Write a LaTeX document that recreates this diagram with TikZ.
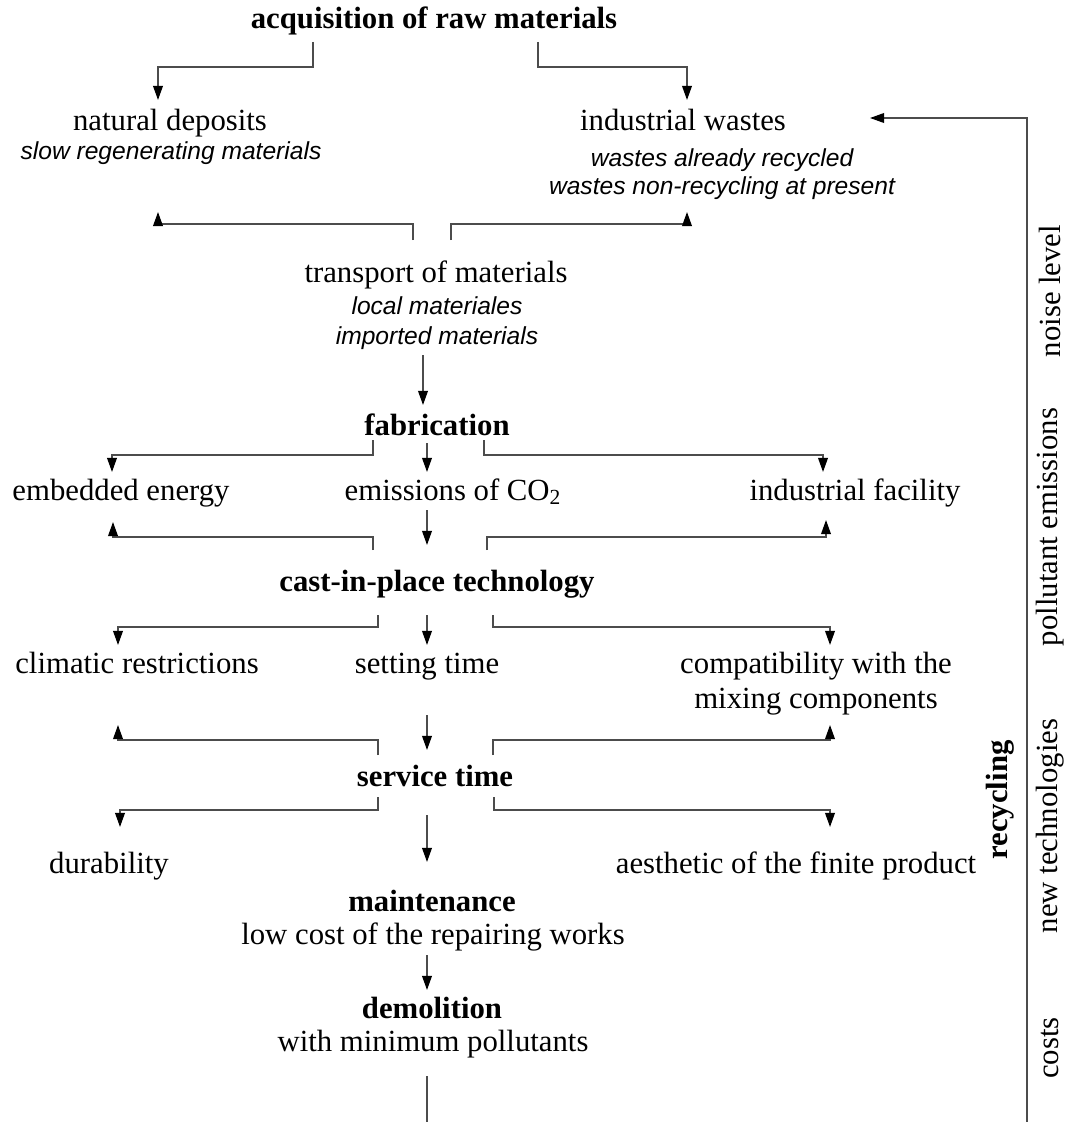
\documentclass[tikz,border=0pt]{standalone}
\usepackage{fontspec}
\setmainfont{Liberation Serif}
\setsansfont{Liberation Sans}
\usetikzlibrary{arrows.meta,calc}

\begin{document}
\begin{tikzpicture}[x=0.02cm, y=-0.02cm,
  txt/.style={anchor=base, inner sep=0pt, font=\fontsize{17.5}{20}\selectfont},
  hd/.style={txt, font=\fontsize{17.5}{20}\selectfont\bfseries},
  sub/.style={anchor=base, inner sep=0pt, font=\fontsize{14}{16}\selectfont\sffamily\itshape},
  side/.style={rotate=90, inner sep=0pt, font=\fontsize{17.5}{20}\selectfont},
  ln/.style={draw=black!70, line width=0.85pt},
  arr/.style={ln, -{Triangle[length=8pt,width=5.5pt,black]}}]
\useasboundingbox (0,0) rectangle (1072,1122);

\node[hd] (acq) at (434,29) {acquisition of raw materials};
\node[txt] (nat) at (170,131) {natural deposits};
\node[sub] (natsub) at (171,159) {slow regenerating materials};
\node[txt] (wst) at (683,131) {industrial wastes};
\node[sub] (wst1) at (722,166) {wastes already recycled};
\node[sub] (wst2) at (722,194) {wastes non-recycling at present};
\node[txt] (trans) at (436,282) {transport of materials};
\node[sub] (trans1) at (437,314) {local materiales};
\node[sub] (trans2) at (437,344) {imported materials};
\node[hd] (fab) at (437,435) {fabrication};
\node[txt] (emb) at (121,500) {embedded energy};
\node[txt] (co2) at (453,500) {emissions of CO\textsubscript{2}};
\node[txt] (fac) at (855,500) {industrial facility};
\node[hd] (cast) at (437,591) {cast-in-place technology};
\node[txt] (clim) at (137,673) {climatic restrictions};
\node[txt] (set) at (427,673) {setting time};
\node[txt] (comp) at (816,673) {compatibility with the};
\node[txt] (mix) at (816,708) {mixing components};
\node[hd] (serv) at (435,786) {service time};
\node[txt] (dur) at (109,873) {durability};
\node[txt] (aes) at (796,873) {aesthetic of the finite product};
\node[hd] (mnt) at (432,911) {maintenance};
\node[txt] (mnt1) at (433,944) {low cost of the repairing works};
\node[hd] (dem) at (432,1018) {demolition};
\node[txt] (dem1) at (433,1051) {with minimum pollutants};

\node[side] (noise) at (1050,291) {noise level};
\node[side] (poll) at (1050,527) {pollutant emissions};
\node[side] (newt) at (1050,826) {new technologies};
\node[side] (cost) at (1050,1048) {costs};
\node[side, font=\fontsize{17.5}{20}\selectfont\bfseries] (recyc) at (1000,800) {recycling};

\coordinate (bot) at (427,1122);
\coordinate (loopb) at (1027,1122);

\draw[arr] ($(acq.base)+(-121,13)$) -- ++(0,25) -| ($(nat.base)+(-12,-31)$);
\draw[arr] ($(acq.base)+(104,13)$) -- ++(0,25) -| ($(wst.base)+(4,-31)$);
\draw[arr] ($(trans.base)+(-23,-42)$) -- ++(0,-16) -| ($(natsub.base)+(-13,53)$);
\draw[arr] ($(trans.base)+(15,-42)$) -- ++(0,-16) -| ($(wst2.base)+(-35,18)$);
\draw[arr] ($(trans2.base)+(-14,11)$) -- ($(fab.base)+(-14,-30)$);

\draw[arr] ($(fab.base)+(-64,5)$) -- ++(0,15) -| ($(emb.base)+(-9,-28)$);
\draw[arr] ($(fab.base)+(-10,8)$) -- ($(co2.base)+(-26,-28)$);
\draw[arr] ($(fab.base)+(47,5)$) -- ++(0,15) -| ($(fac.base)+(-32,-28)$);
\draw[arr] ($(co2.base)+(-26,10)$) -- ($(cast.base)+(-10,-46)$);
\draw[arr] ($(cast.base)+(-64,-41)$) -- ++(0,-13) -| ($(emb.base)+(-8,22)$);
\draw[arr] ($(cast.base)+(50,-41)$) -- ++(0,-13) -| ($(fac.base)+(-29,20)$);

\draw[arr] ($(cast.base)+(-59,24)$) -- ++(0,12) -| ($(clim.base)+(-19,-28)$);
\draw[arr] ($(cast.base)+(-10,24)$) -- ($(set.base)+(0,-28)$);
\draw[arr] ($(cast.base)+(56,24)$) -- ++(0,12) -| ($(comp.base)+(14,-28)$);
\draw[arr] ($(set.base)+(0,42)$) -- ($(serv.base)+(-8,-36)$);
\draw[arr] ($(serv.base)+(-57,-31)$) -- ++(0,-15) -| ($(clim.base)+(-19,52)$);
\draw[arr] ($(serv.base)+(58,-31)$) -- ++(0,-15) -| ($(mix.base)+(14,17)$);

\draw[arr] ($(serv.base)+(-57,11)$) -- ++(0,13) -| ($(dur.base)+(11,-46)$);
\draw[arr] ($(serv.base)+(-8,29)$) -- ($(mnt.base)+(-5,-49)$);
\draw[arr] ($(serv.base)+(59,11)$) -- ++(0,13) -| ($(aes.base)+(34,-46)$);
\draw[arr] ($(mnt1.base)+(-6,11)$) -- ($(dem.base)+(-5,-28)$);
\draw[ln] ($(dem1.base)+(-6,25)$) -- (bot);
\draw[arr] (loopb) |- ($(wst.base)+(187,-13)$);
\end{tikzpicture}
\end{document}
